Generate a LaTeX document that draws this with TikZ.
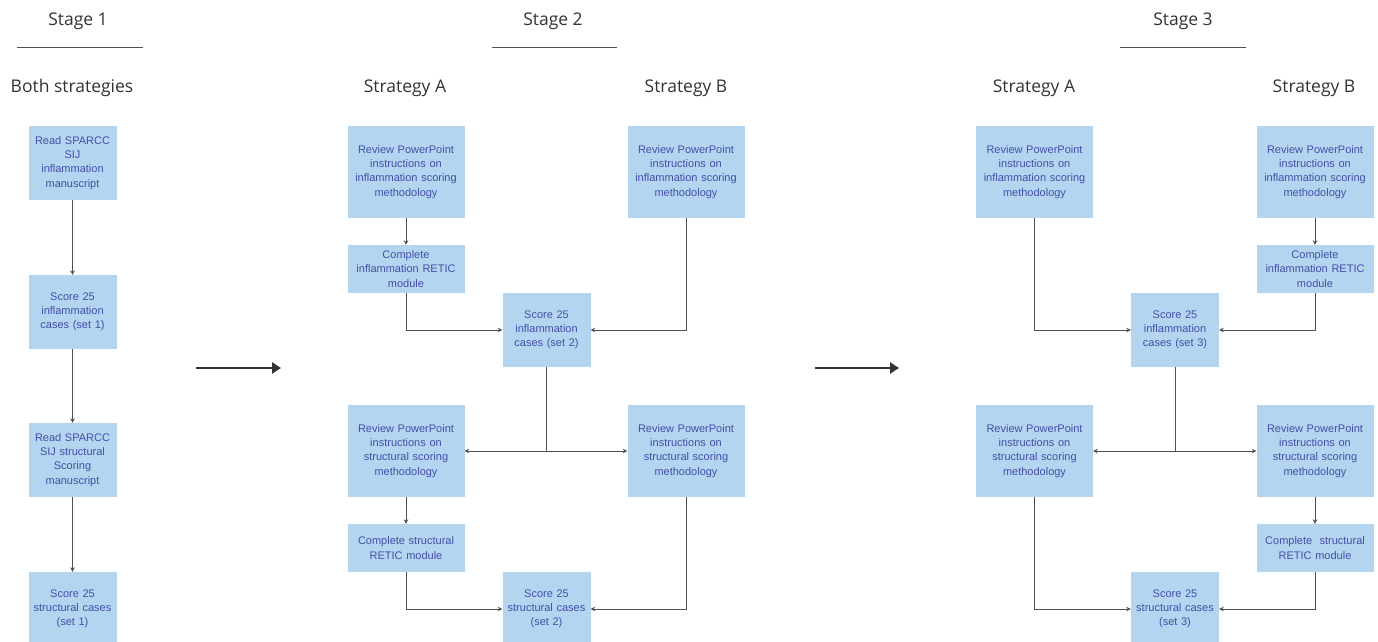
\documentclass[tikz,border=0pt]{standalone}
\usepackage{fontspec}
\setmainfont{Liberation Sans}
\newfontfamily\headfont{Open Sans}
\usetikzlibrary{arrows.meta}
\definecolor{boxblue}{RGB}{180,213,240}
\definecolor{txtblue}{RGB}{68,78,168}
\definecolor{linegray}{RGB}{80,80,80}
\definecolor{headgray}{RGB}{51,51,51}
\tikzset{
  box/.style={fill=boxblue, text=txtblue, align=center, inner sep=1pt,
    font=\fontsize{11}{14.2}\selectfont},
  narrow/.style={box, minimum width=87pt, text width=86pt},
  wide/.style={box, minimum width=116pt, text width=115pt},
  tall/.style={minimum height=92pt},
  mid/.style={minimum height=74pt},
  short/.style={minimum height=48pt},
  conn/.style={draw=linegray, line width=1pt, -{Stealth[length=4.5pt,width=4.5pt]}},
  bigarrow/.style={draw=headgray, line width=2.8pt, -{Triangle[length=9pt,width=11pt]}},
  head/.style={text=headgray, font=\headfont\fontsize{17.5}{20}\selectfont},
  headline/.style={draw=linegray, line width=0.9pt}
}
\begin{document}
\begin{tikzpicture}[x=1pt,y=-1pt]
\useasboundingbox (0,0) rectangle (1378,642);

% headings
\node[head] (h1) at (78,21) {Stage 1};
\node[head] (h2) at (553,21) {Stage 2};
\node[head] (h3) at (1183,21) {Stage 3};
\coordinate (l1a) at (17,47); \coordinate (l1b) at (143,47);
\coordinate (l2a) at (492,47); \coordinate (l2b) at (617,47);
\coordinate (l3a) at (1120,47); \coordinate (l3b) at (1246,47);
\draw[headline] (l1a) -- (l1b);
\draw[headline] (l2a) -- (l2b);
\draw[headline] (l3a) -- (l3b);
\node[head] (b1) at (72,88) {Both strategies};
\node[head] (sa2) at (405,88) {Strategy A};
\node[head] (sb2) at (686,88) {Strategy B};
\node[head] (sa3) at (1034,88) {Strategy A};
\node[head] (sb3) at (1314,88) {Strategy B};

% stage 1
\node[narrow, mid] (s1a) at (72.5,163) {Read SPARCC\\SIJ\\inflammation\\manuscript};
\node[narrow, mid] (s1b) at (72.5,312) {Score 25\\inflammation\\cases (set 1)};
\node[narrow, mid] (s1c) at (72.5,460) {Read SPARCC\\SIJ structural\\Scoring\\manuscript};
\node[narrow, mid] (s1d) at (72.5,609) {Score 25\\structural cases\\(set 1)};
\draw[conn] (s1a) -- (s1b);
\draw[conn] (s1b) -- (s1c);
\draw[conn] (s1c) -- (s1d);

% stage 2
\node[wide, tall] (s2a1) at (406,172) {Review PowerPoint\\instructions on\\inflammation scoring\\methodology};
\node[wide, short] (s2a2) at (406,269) {Complete\\inflammation RETIC\\module};
\node[wide, tall] (s2b1) at (686,172) {Review PowerPoint\\instructions on\\inflammation scoring\\methodology};
\node[narrow, mid] (s2c1) at (546.5,330) {Score 25\\inflammation\\cases (set 2)};
\node[wide, tall] (s2a3) at (406,451) {Review PowerPoint\\instructions on\\structural scoring\\methodology};
\node[wide, tall] (s2b3) at (686,451) {Review PowerPoint\\instructions on\\structural scoring\\methodology};
\node[wide, short] (s2a4) at (406,548) {Complete structural\\RETIC module};
\node[narrow, mid] (s2c2) at (546.5,609) {Score 25\\structural cases\\(set 2)};
\draw[conn] (s2a1) -- (s2a2);
\draw[conn] (s2a2.south) |- (s2c1.west);
\draw[conn] (s2b1.south) |- (s2c1.east);
\draw[conn] (s2c1.south) |- (s2a3.east);
\draw[conn] (s2c1.south) |- (s2b3.west);
\draw[conn] (s2a3) -- (s2a4);
\draw[conn] (s2a4.south) |- (s2c2.west);
\draw[conn] (s2b3.south) |- (s2c2.east);

% stage 3
\node[wide, tall] (s3a1) at (1034.5,172) {Review PowerPoint\\instructions on\\inflammation scoring\\methodology};
\node[wide, tall] (s3b1) at (1315,172) {Review PowerPoint\\instructions on\\inflammation scoring\\methodology};
\node[wide, short] (s3b2) at (1315,269) {Complete\\inflammation RETIC\\module};
\node[narrow, mid] (s3c1) at (1175,330) {Score 25\\inflammation\\cases (set 3)};
\node[wide, tall] (s3a3) at (1034.5,451) {Review PowerPoint\\instructions on\\structural scoring\\methodology};
\node[wide, tall] (s3b3) at (1315,451) {Review PowerPoint\\instructions on\\structural scoring\\methodology};
\node[wide, short] (s3b4) at (1315,548) {Complete\ \ structural\\RETIC module};
\node[narrow, mid] (s3c2) at (1175,609) {Score 25\\structural cases\\(set 3)};
\draw[conn] (s3b1) -- (s3b2);
\draw[conn] (s3a1.south) |- (s3c1.west);
\draw[conn] (s3b2.south) |- (s3c1.east);
\draw[conn] (s3c1.south) |- (s3a3.east);
\draw[conn] (s3c1.south) |- (s3b3.west);
\draw[conn] (s3b3) -- (s3b4);
\draw[conn] (s3a3.south) |- (s3c2.west);
\draw[conn] (s3b4.south) |- (s3c2.east);

% stage arrows
\coordinate (g1a) at (196,368); \coordinate (g1b) at (281,368);
\coordinate (g2a) at (815,368); \coordinate (g2b) at (899,368);
\draw[bigarrow] (g1a) -- (g1b);
\draw[bigarrow] (g2a) -- (g2b);
\end{tikzpicture}
\end{document}
